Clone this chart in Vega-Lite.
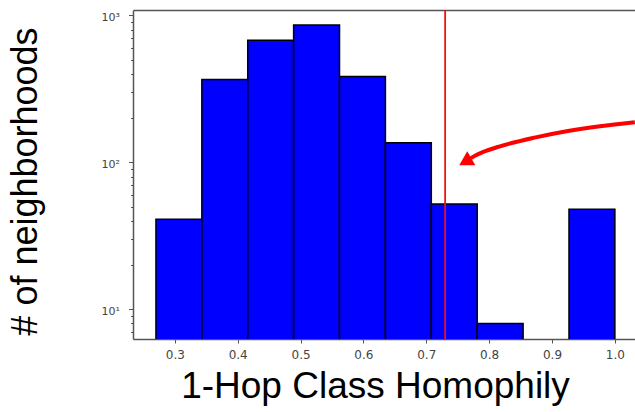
{
  "$schema": "https://vega.github.io/schema/vega-lite/v6.json",
  "width": 502,
  "height": 329,
  "autosize": "none",
  "padding": {"left": 133, "top": 10, "right": 0, "bottom": 73},
  "background": "white",
  "config": {"view": {"stroke": null}},
  "datasets": {
    "bins": [
      {"start": 0.27, "end": 0.343, "count": 41},
      {"start": 0.343, "end": 0.416, "count": 366},
      {"start": 0.416, "end": 0.489, "count": 679},
      {"start": 0.489, "end": 0.562, "count": 860},
      {"start": 0.562, "end": 0.635, "count": 384},
      {"start": 0.635, "end": 0.708, "count": 136},
      {"start": 0.708, "end": 0.781, "count": 52},
      {"start": 0.781, "end": 0.854, "count": 8},
      {"start": 0.927, "end": 1.0, "count": 48}
    ],
    "threshold": [{"x": 0.73}],
    "arrow": [
      {"x": 1.0318, "y": 187.5},
      {"x": 0.9761, "y": 176.0},
      {"x": 0.9232, "y": 162.7},
      {"x": 0.8701, "y": 146.7},
      {"x": 0.8172, "y": 128.6},
      {"x": 0.7907, "y": 117.8},
      {"x": 0.7775, "y": 111.1},
      {"x": 0.765, "y": 103.0}
    ],
    "head": [{"x": 0.762, "y": 101.1}]
  },
  "layer": [
    {
      "data": {"name": "bins"},
      "mark": {"type": "rect", "color": "#0000ff", "stroke": "black", "strokeWidth": 1.5, "clip": true},
      "encoding": {
        "x": {
          "field": "start", "type": "quantitative",
          "scale": {"domain": [0.2335, 1.032], "nice": false, "zero": false},
          "axis": {
            "orient": "bottom",
            "values": [0.3, 0.4, 0.5, 0.6, 0.7, 0.8, 0.9, 1.0],
            "format": ".1f",
            "grid": false,
            "tickSize": 4,
            "tickColor": "#555",
            "domainColor": "#555",
            "domainWidth": 1.5,
            "labelFont": "DejaVu Sans",
            "labelFontSize": 12,
            "labelColor": "#444",
            "labelPadding": 6,
            "title": "1-Hop Class Homophily",
            "titleFont": "Liberation Sans",
            "titleFontSize": 37,
            "titleFontWeight": "normal",
            "titleColor": "black",
            "titleAnchor": null,
            "titleAlign": "center",
            "titleBaseline": "alphabetic",
            "titleX": 242,
            "titleY": 58
          }
        },
        "x2": {"field": "end"},
        "y": {
          "field": "count", "type": "quantitative",
          "scale": {"type": "log", "domain": [6.27, 1090], "nice": false},
          "axis": {
            "orient": "left",
            "values": [10, 100, 1000],
            "labelExpr": "datum.value == 10 ? '10¹' : datum.value == 100 ? '10²' : '10³'",
            "grid": false,
            "tickSize": 4.5,
            "tickColor": "#555",
            "domainColor": "#555",
            "domainWidth": 1.5,
            "labelFont": "DejaVu Sans",
            "labelFontSize": 11,
            "labelColor": "#444",
            "labelPadding": 9,
            "labelBaseline": "middle",
            "labelOffset": 2,
            "title": "# of neighborhoods",
            "titleFont": "Liberation Sans",
            "titleFontSize": 36,
            "titleFontWeight": "normal",
            "titleColor": "black",
            "titleAnchor": null,
            "titleAngle": -90,
            "titleAlign": "center",
            "titleBaseline": "alphabetic",
            "titleX": -97,
            "titleY": 171
          }
        },
        "y2": {"datum": 1}
      }
    },
    {
      "data": {"name": "threshold"},
      "mark": {"type": "rule", "color": "#ee1111", "strokeWidth": 1.8},
      "encoding": {
        "x": {
          "field": "x", "type": "quantitative",
          "scale": {"domain": [0.2335, 1.032], "nice": false, "zero": false},
          "axis": {"orient": "top", "labels": false, "ticks": false, "grid": false, "domainColor": "#555", "domainWidth": 1.5, "title": null}
        }
      }
    },
    {
      "data": {"name": "arrow"},
      "mark": {"type": "line", "color": "#ff0000", "strokeWidth": 4, "interpolate": "monotone", "clip": true},
      "encoding": {
        "x": {"field": "x", "type": "quantitative", "scale": {"domain": [0.2335, 1.032], "nice": false, "zero": false}, "axis": null},
        "y": {
          "field": "y", "type": "quantitative",
          "scale": {"type": "log", "domain": [6.27, 1090], "nice": false},
          "axis": {
            "orient": "left",
            "values": [7, 8, 9, 20, 30, 40, 50, 60, 70, 80, 90, 200, 300, 400, 500, 600, 700, 800, 900],
            "labels": false,
            "domain": false,
            "grid": false,
            "tickSize": 2.5,
            "tickColor": "#555",
            "title": null
          }
        },
        "order": {"field": "x"}
      }
    },
    {
      "data": {"name": "head"},
      "mark": {"type": "point", "shape": "triangle-up", "filled": true, "color": "#ff0000", "opacity": 1, "size": 260, "angle": 240},
      "encoding": {
        "x": {"field": "x", "type": "quantitative", "scale": {"domain": [0.2335, 1.032], "nice": false, "zero": false}, "axis": null},
        "y": {"field": "y", "type": "quantitative", "scale": {"type": "log", "domain": [6.27, 1090], "nice": false}, "axis": null}
      }
    }
  ],
  "resolve": {"axis": {"x": "independent", "y": "independent"}}
}
